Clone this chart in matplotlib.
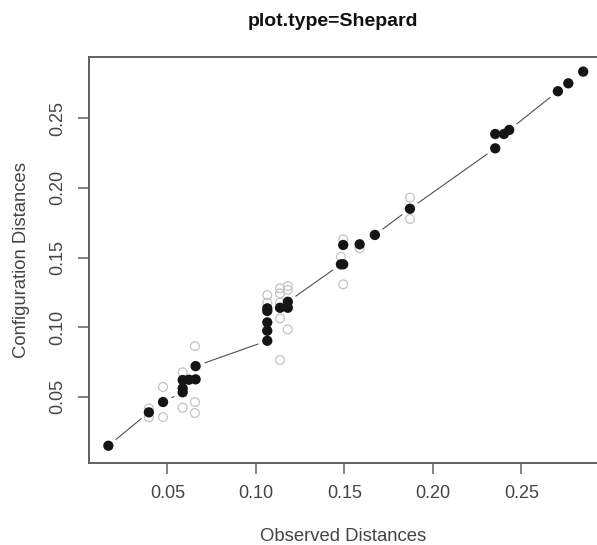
import numpy as np
import matplotlib
matplotlib.use("Agg")
import matplotlib.pyplot as plt

plt.rcParams['font.family'] = ['Liberation Sans', 'DejaVu Sans']

# Fitted (disparity) points: observed distance, configuration distance
fit_x = [0.0166, 0.0395, 0.0475, 0.0586, 0.0586, 0.0586, 0.0621, 0.0659, 0.0659,
         0.1064, 0.1064, 0.1064, 0.1064, 0.1064, 0.1136, 0.1180, 0.1180,
         0.1480, 0.1493, 0.1493, 0.1586, 0.1672, 0.1870,
         0.2352, 0.2352, 0.2401, 0.2431, 0.2706, 0.2765, 0.2849]
fit_y = [0.0148, 0.0388, 0.0462, 0.0532, 0.0560, 0.0620, 0.0622, 0.0625, 0.0720,
         0.0902, 0.0974, 0.1034, 0.1116, 0.1135, 0.1139, 0.1139, 0.1182,
         0.1451, 0.1451, 0.1590, 0.1595, 0.1662, 0.1850,
         0.2284, 0.2387, 0.2387, 0.2416, 0.2694, 0.2751, 0.2835]

# Configuration distances (open grey circles)
obs_x = [0.0395, 0.0395, 0.0475, 0.0475, 0.0586, 0.0586, 0.0655, 0.0655, 0.0655,
         0.1064, 0.1064, 0.1136, 0.1136, 0.1136, 0.1136, 0.1136, 0.1180, 0.1180, 0.1180,
         0.1493, 0.1480, 0.1493, 0.1586, 0.1870, 0.1870]
obs_y = [0.0417, 0.0352, 0.0570, 0.0354, 0.0675, 0.0421, 0.0864, 0.0462, 0.0383,
         0.1230, 0.1175, 0.1279, 0.1243, 0.1175, 0.1063, 0.0764, 0.1295, 0.1267, 0.0984,
         0.1630, 0.1506, 0.1307, 0.1566, 0.1930, 0.1777]

x_ticks = [0.05, 0.10, 0.15, 0.20, 0.25]
y_ticks = [0.05, 0.10, 0.15, 0.20, 0.25]

W, H = 597, 545
fig = plt.figure(figsize=(W / 100, H / 100), dpi=100)
ax = fig.add_axes([88.7 / W, 1 - 462.6 / H, 1 - 88.7 / W, (462.6 - 57) / H])
ax.set_xlim(0.0055, 0.2927)
ax.set_ylim(0.0027, 0.294)

ax.scatter(obs_x, obs_y, s=40, facecolors='none', edgecolors='#c4c4c4', linewidths=0.9, zorder=2)
ax.scatter(fit_x, fit_y, s=55, color='#151515', edgecolors='none', zorder=3)

# R type="b" line: segments between consecutive points with gaps around points
order = sorted(range(len(fit_x)), key=lambda i: (fit_x[i], fit_y[i]))
pts = ax.transData.transform(np.column_stack([[fit_x[i] for i in order], [fit_y[i] for i in order]]))
gap = 10.0
inv = ax.transData.inverted()
for p, q in zip(pts[:-1], pts[1:]):
    d = q - p
    L = np.hypot(*d)
    if L > 2 * gap:
        u = d / L
        a = inv.transform(p + u * gap)
        b = inv.transform(q - u * gap)
        ax.plot([a[0], b[0]], [a[1], b[1]], color='#505050', lw=0.8, zorder=1)

ax.set_xticks(x_ticks)
ax.set_yticks(y_ticks)
ax.set_xticklabels([f"{v:.2f}" for v in x_ticks])
ax.set_yticklabels([f"{v:.2f}" for v in y_ticks], rotation=90, va='center')
for s in ['left', 'top', 'bottom']:
    ax.spines[s].set_color('#606060')
    ax.spines[s].set_linewidth(1.4)
ax.spines['right'].set_visible(False)
ax.tick_params(axis='both', length=8, width=1.1, color='#606060', labelsize=13, labelcolor='#444444')
ax.tick_params(axis='x', pad=8)
ax.tick_params(axis='y', pad=8)

ax.set_xlabel("Observed Distances", fontsize=13.3, color='#444444', labelpad=19)
ax.set_ylabel("Configuration Distances", fontsize=13.3, color='#444444', labelpad=14)
fig.text(332.5 / W, 1 - 22 / H, "plot.type=Shepard", fontsize=14, fontweight='bold',
         ha='center', va='center', color='#111111')

fig.savefig("out.png", dpi=100)
